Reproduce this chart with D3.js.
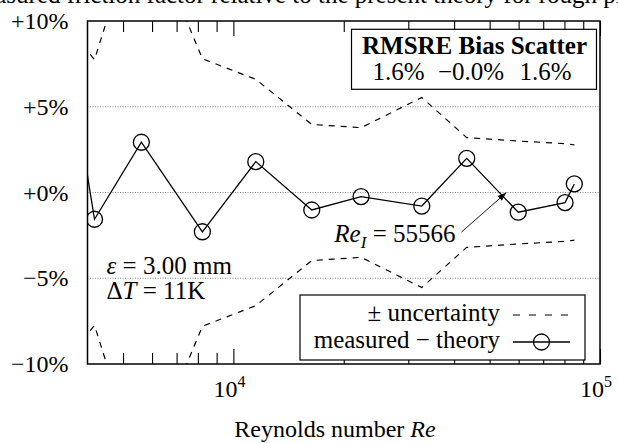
<!DOCTYPE html>
<html>
<head>
<meta charset="utf-8">
<script src="https://cdn.jsdelivr.net/npm/d3@7"></script>
<style>
  body { margin: 0; background: #fff; }
  svg { display: block; font-family: "Liberation Serif", "Times New Roman", serif; }
</style>
</head>
<body>
<script>
// measured points (Reynolds number, deviation in %)
var reynolds = [3700, 4180, 5610, 8230, 11510, 16360, 22300, 32650, 43300, 59840, 80290, 85100];
var deviation = [5.44, -1.56, 2.93, -2.29, 1.80, -1.02, -0.24, -0.79, 1.99, -1.15, -0.59, 0.50];
// +/- uncertainty band (%)
var uncertainty = [9.14, 7.75, 16.4, 7.8, 6.6, 3.97, 3.78, 5.54, 3.2, 3.0, 2.85, 2.78];

var yTicks = [-10, -5, 0, 5, 10];
var yTickLabels = ["\u221210%", "\u22125%", "+0%", "+5%", "+10%"];
var gridValues = [-5, 0, 5];
var xMajor = [10000, 100000];
var xMinor = [5000, 6000, 7000, 8000, 9000, 20000, 30000, 40000, 50000, 60000, 70000, 80000, 90000];

var statsHeader = "RMSRE Bias Scatter";
var statsValues = ["1.6%", "\u22120.0%", "1.6%"];
var transitionRe = 55566;

var W = 618, H = 443;
var margin = {top: 21, right: 18, bottom: 79, left: 87.5};
var width = W - margin.left - margin.right;
var height = H - margin.top - margin.bottom;

var svg = d3.select("body").append("svg")
    .attr("width", W)
    .attr("height", H);

// title, mostly cut off at the top (as in the original figure)
svg.append("text")
    .attr("x", 309)
    .attr("y", 3)
    .attr("text-anchor", "middle")
    .style("font-size", "25px")
    .text("Measured friction factor relative to the present theory for rough pipes");

var g = svg.append("g")
    .attr("transform", "translate(" + margin.left + "," + margin.top + ")");

var x = d3.scaleLog().domain([4000, 100000]).range([0, width]);
var y = d3.scaleLinear().domain([-10, 10]).range([height, 0]);

g.append("clipPath").attr("id", "clip")
  .append("rect").attr("width", width).attr("height", height);

// dotted grid lines
g.selectAll(".grid").data(gridValues).enter()
  .append("line")
    .attr("x1", 0).attr("x2", width)
    .attr("y1", function(d) { return y(d); })
    .attr("y2", function(d) { return y(d); })
    .attr("stroke", "#888")
    .attr("stroke-width", 1)
    .attr("stroke-dasharray", "1,1.5");

// ticks on top and bottom
function ticks(axis, values, size, ty) {
    var a = g.append("g")
        .attr("transform", "translate(0," + ty + ")")
        .call(axis(x).tickValues(values).tickSize(-size).tickFormat(""));
    a.select(".domain").remove();
    a.selectAll("line").attr("stroke", "#000").attr("stroke-width", 1.1);
}
ticks(d3.axisBottom, xMinor, 11, height);
ticks(d3.axisBottom, xMajor, 15, height);
ticks(d3.axisTop, xMinor, 11, 0);
ticks(d3.axisTop, xMajor, 15, 0);

// y labels
var yAxis = g.append("g")
    .call(d3.axisLeft(y).tickValues(yTicks).tickSize(0).tickPadding(19)
        .tickFormat(function(d, i) { return yTickLabels[i]; }));
yAxis.select(".domain").remove();
yAxis.selectAll("text")
    .style("font-family", "Liberation Serif, serif")
    .style("font-size", "24px")
    .attr("fill", "#000");

// x labels 10^n
var xl = g.selectAll(".xlab").data(xMajor).enter()
  .append("text")
    .attr("x", function(d) { return x(d) - 4; })
    .attr("y", height + 33)
    .attr("text-anchor", "middle")
    .style("font-size", "24px");
xl.append("tspan").text("10");
xl.append("tspan")
    .attr("dy", -10)
    .style("font-size", "16px")
    .text(function(d) { return Math.round(Math.log10(d)); });

// uncertainty band
var band = g.append("g").attr("clip-path", "url(#clip)");
var upper = d3.line()
    .x(function(d, i) { return x(reynolds[i]); })
    .y(function(d) { return y(d); });
var lower = d3.line()
    .x(function(d, i) { return x(reynolds[i]); })
    .y(function(d) { return y(-d); });
band.append("path").attr("d", upper(uncertainty));
band.append("path").attr("d", lower(uncertainty));
band.selectAll("path")
    .attr("fill", "none")
    .attr("stroke", "#000")
    .attr("stroke-width", 1.2)
    .attr("stroke-dasharray", "6,6");

// measured - theory
var data = g.append("g").attr("clip-path", "url(#clip)");
var line = d3.line()
    .x(function(d, i) { return x(reynolds[i]); })
    .y(function(d) { return y(d); });
data.append("path")
    .attr("d", line(deviation))
    .attr("fill", "none")
    .attr("stroke", "#000")
    .attr("stroke-width", 1.3);
data.selectAll("circle").data(deviation).enter()
  .append("circle")
    .attr("cx", function(d, i) { return x(reynolds[i]); })
    .attr("cy", function(d) { return y(d); })
    .attr("r", 8)
    .attr("fill", "none")
    .attr("stroke", "#000")
    .attr("stroke-width", 1.3);

// transition annotation
svg.append("defs").append("marker")
    .attr("id", "arrow")
    .attr("viewBox", "0 0 10 10")
    .attr("refX", 10).attr("refY", 5)
    .attr("markerWidth", 9).attr("markerHeight", 9)
    .attr("markerUnits", "userSpaceOnUse")
    .attr("orient", "auto")
  .append("path")
    .attr("d", "M0,1.5L10,5L0,8.5z")
    .attr("fill", "#000");

var reText = g.append("text")
    .attr("x", 368)
    .attr("y", 220.7)
    .attr("text-anchor", "end")
    .style("font-size", "25px");
reText.append("tspan").style("font-style", "italic").text("Re");
reText.append("tspan").attr("dy", 6).style("font-style", "italic").style("font-size", "17px").text("I");
reText.append("tspan").attr("dy", -6).text(" = " + transitionRe);

g.append("line")
    .attr("x1", 374).attr("y1", 211)
    .attr("x2", x(transitionRe)).attr("y2", y(0))
    .attr("stroke", "#000")
    .attr("stroke-width", 0.9)
    .attr("marker-end", "url(#arrow)");

// roughness / temperature note
var note = g.append("text")
    .attr("x", 19)
    .attr("y", 252.5)
    .style("font-size", "25px");
note.append("tspan").style("font-style", "italic").text("\u03b5");
note.append("tspan").text(" = 3.00 mm");
var note2 = g.append("text")
    .attr("x", 19)
    .attr("y", 278)
    .style("font-size", "25px");
note2.append("tspan").text("\u0394");
note2.append("tspan").style("font-style", "italic").text("T");
note2.append("tspan").text(" = 11K");

// frame
g.append("rect")
    .attr("width", width)
    .attr("height", height)
    .attr("fill", "none")
    .attr("stroke", "#000")
    .attr("stroke-width", 1.5);

// stats box
var stats = g.append("g").attr("transform", "translate(264,8.3)");
stats.append("rect")
    .attr("width", 245)
    .attr("height", 60)
    .attr("fill", "#fff")
    .attr("stroke", "#000")
    .attr("stroke-width", 1.2);
stats.append("text")
    .attr("x", 123)
    .attr("y", 24.5)
    .attr("text-anchor", "middle")
    .style("font-size", "25px")
    .style("font-weight", "bold")
    .text(statsHeader);
stats.selectAll(".val").data(statsValues).enter()
  .append("text")
    .attr("x", function(d, i) { return [47, 119.5, 194][i]; })
    .attr("y", 51)
    .attr("text-anchor", "middle")
    .style("font-size", "25px")
    .text(function(d) { return d; });

// legend
var legend = g.append("g").attr("transform", "translate(212.5,274)");
legend.append("rect")
    .attr("width", 285)
    .attr("height", 65)
    .attr("fill", "#fff")
    .attr("stroke", "#000")
    .attr("stroke-width", 1.2);
legend.append("text")
    .attr("x", 200).attr("y", 26)
    .attr("text-anchor", "end")
    .style("font-size", "25px")
    .text("\u00b1 uncertainty");
legend.append("text")
    .attr("x", 200).attr("y", 52.5)
    .attr("text-anchor", "end")
    .style("font-size", "25px")
    .text("measured \u2212 theory");
legend.append("line")
    .attr("x1", 213).attr("x2", 270)
    .attr("y1", 20).attr("y2", 20)
    .attr("stroke", "#000")
    .attr("stroke-width", 1.2)
    .attr("stroke-dasharray", "7,9");
legend.append("line")
    .attr("x1", 213).attr("x2", 270)
    .attr("y1", 47).attr("y2", 47)
    .attr("stroke", "#000")
    .attr("stroke-width", 1.3);
legend.append("circle")
    .attr("cx", 241.5).attr("cy", 47)
    .attr("r", 8)
    .attr("fill", "none")
    .attr("stroke", "#000")
    .attr("stroke-width", 1.3);

// axis title
var xt = svg.append("text")
    .attr("x", 335)
    .attr("y", 437)
    .attr("text-anchor", "middle")
    .style("font-size", "24px");
xt.append("tspan").text("Reynolds number  ");
xt.append("tspan").style("font-style", "italic").text("Re");
</script>
</body>
</html>
